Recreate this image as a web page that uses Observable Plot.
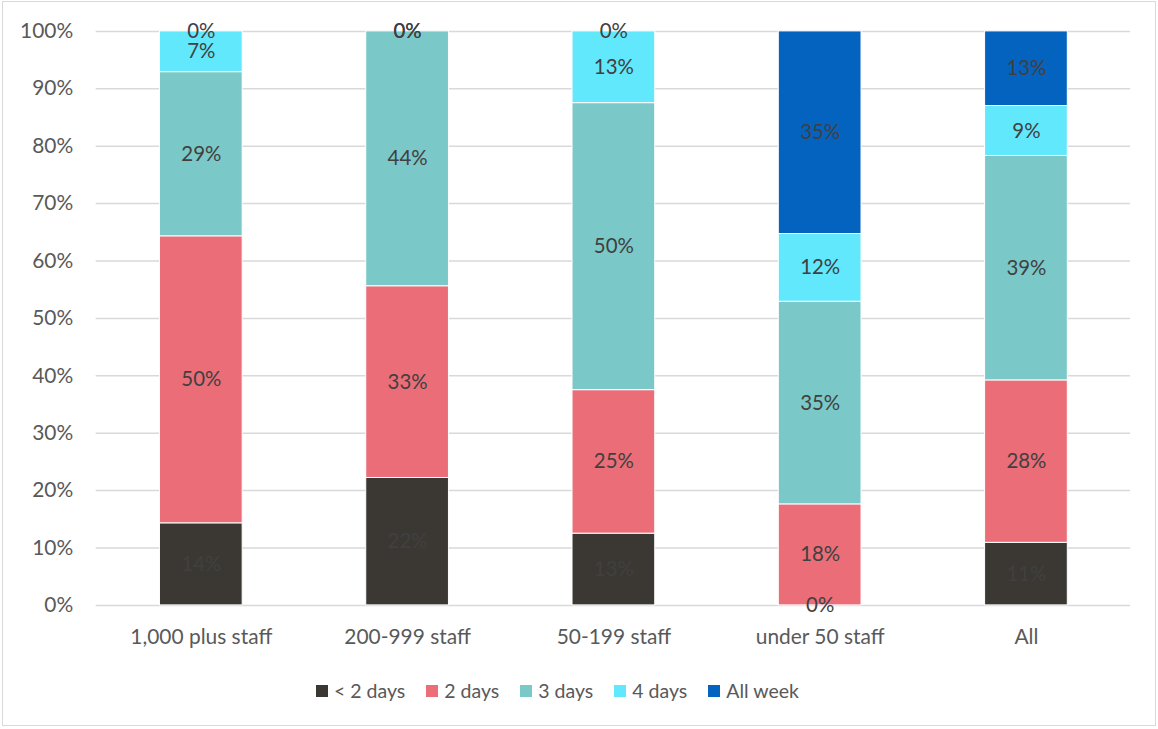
<!DOCTYPE html>
<html>
<head>
<meta charset="utf-8">
<script src="https://cdn.jsdelivr.net/npm/d3@7"></script>
<script src="https://cdn.jsdelivr.net/npm/@observablehq/plot@0.6"></script>
<style>
  html, body { margin: 0; padding: 0; background: #fff; }
  #frame {
    position: relative; width: 1154px; height: 725px; margin: 1px 2px;
    border: 1px solid #d9d9d9; box-sizing: border-box; overflow: hidden;
    font-family: Lato, "Open Sans", sans-serif;
  }
  #chart { position: absolute; left: -2px; top: -1px; }
  #legend {
    position: absolute; left: 313px; top: 677px;
    display: flex; gap: 21px;
    font-size: 19.5px; color: #595959;
  }
  #legend .item { display: flex; align-items: center; gap: 6px; }
  #legend .sw { width: 12px; height: 12px; display: inline-block; }
</style>
</head>
<body>
<div id="frame">
  <div id="chart"></div>
  <div id="legend"></div>
</div>
<script>
// Share of respondents by number of office days, per organisation size
const categories = ["1,000 plus staff", "200-999 staff", "50-199 staff", "under 50 staff", "All"];
const seriesNames = ["< 2 days", "2 days", "3 days", "4 days", "All week"];
const seriesColors = ["#3b3833", "#eb6d78", "#7bc8c8", "#62e8fc", "#0563c0"];

// Percent values per series, in category order
const lessThanTwo = [14.3, 22.2, 12.5, 0.0, 10.9];
const twoDays     = [50.0, 33.4, 25.0, 17.6, 28.3];
const threeDays   = [28.6, 44.4, 50.0, 35.3, 39.1];
const fourDays    = [7.1, 0.0, 12.5, 11.8, 8.7];
const allWeek     = [0.0, 0.0, 0.0, 35.3, 13.0];

const yTicks = [0, 10, 20, 30, 40, 50, 60, 70, 80, 90, 100];

const seriesValues = [lessThanTwo, twoDays, threeDays, fourDays, allWeek];
const rows = [];
seriesNames.forEach((s, si) => {
  categories.forEach((c, ci) => {
    rows.push({category: c, series: s, value: seriesValues[si][ci]});
  });
});

const stackOpts = {x: "category", y: "value", z: "series", order: seriesNames};

const chart = Plot.plot({
  width: 1158,
  height: 655,
  marginTop: 30,
  marginBottom: 49,
  marginLeft: 95,
  marginRight: 25,
  style: {fontFamily: "Lato, 'Open Sans', sans-serif", fontSize: "21px", color: "#595959", background: "transparent"},
  x: {domain: categories, paddingInner: 0.6, paddingOuter: 0.3, align: 0.5, label: null, tickSize: 0, tickPadding: 24},
  y: {domain: [0, 100], ticks: yTicks, tickFormat: d => d + "%", label: null, tickSize: 0, tickPadding: 23},
  color: {domain: seriesNames, range: seriesColors},
  marks: [
    Plot.ruleY(yTicks, {stroke: "#d9d9d9", strokeWidth: 1.5}),
    Plot.barY(rows, Plot.stackY({...stackOpts, fill: "series", stroke: "white", strokeWidth: 1})),
    Plot.text(rows, Plot.stackY({...stackOpts, text: d => Math.round(d.value) + "%", fill: "#404040", fontSize: 20.5}))
  ]
});
document.getElementById("chart").appendChild(chart);

const legend = document.getElementById("legend");
seriesNames.forEach((s, i) => {
  const item = document.createElement("span");
  item.className = "item";
  const sw = document.createElement("span");
  sw.className = "sw";
  sw.style.background = seriesColors[i];
  const label = document.createElement("span");
  label.textContent = s;
  item.appendChild(sw);
  item.appendChild(label);
  legend.appendChild(item);
});
</script>
</body>
</html>
